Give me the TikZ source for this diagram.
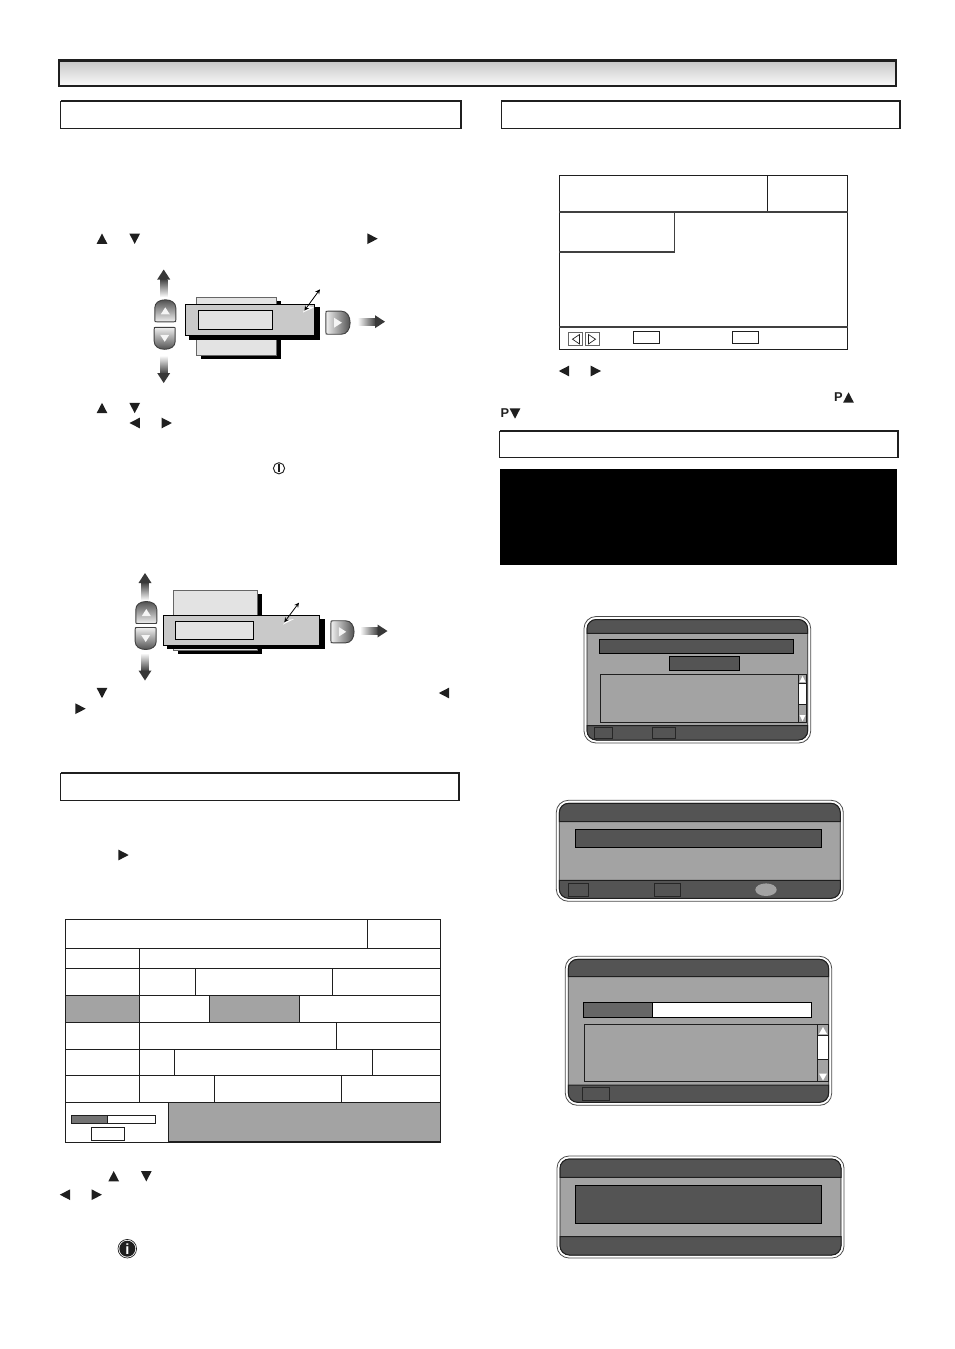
\documentclass[tikz,border=0pt]{standalone}
\usepackage{fontspec}
\setmainfont{Liberation Sans}
\definecolor{ink}{gray}{0.12}
\definecolor{dlgdark}{gray}{0.33}
\definecolor{dlgmid}{gray}{0.64}
\definecolor{panelmid}{gray}{0.79}
\definecolor{panellight}{gray}{0.89}
\newcommand{\dialogframe}[6]{
    \draw[black!70,fill=white,line width=0.6pt,rounded corners=9] (#1-3,#2-3) rectangle (#3+3,#4+3);
    \draw[ink,fill=dlgmid,line width=0.5pt,rounded corners=7] (#1,#2) rectangle (#3,#4);
    \draw[ink,fill=dlgdark,line width=0.75pt] (#1,#5) [rounded corners=7] -- (#1,#2) -- (#3,#2) [sharp corners] -- (#3,#5) -- cycle;
    \draw[ink,fill=dlgdark,line width=0.75pt] (#1,#6) [rounded corners=7] -- (#1,#4) -- (#3,#4) [sharp corners] -- (#3,#6) -- cycle;
}
\tikzset{
    x=0.75pt,y=-0.75pt,
    every node/.style={inner sep=0pt,outer sep=0pt},
    section box/.style={draw=ink,line width=0.75pt},
    table line/.style={draw=ink,line width=0.9pt},
    screen line/.style={draw=ink,line width=0.8pt},
    dark box/.style={draw=black,fill=dlgdark,line width=0.9pt},
    foot box/.style={draw=black!85,fill=dlgdark,line width=0.6pt},
    panel/.style={draw=black,fill=panelmid,line width=0.8pt},
    back panel/.style={draw=black!60,fill=panellight,line width=0.7pt},
    inner panel/.style={draw=black,fill=panellight,line width=0.8pt},
    pics/tri/.style={code={\fill[ink] (-5.4,5.2) -- (5.4,5.2) -- (0,-5.2) -- cycle;}},
    pics/keybtn/.style={code={
        \shade[draw=black!75,line width=0.7pt,top color=black!68,bottom color=black!6,shading angle=#1]
            (-8.5,11) -- (8.5,11) .. controls (10.5,11) and (10.5,11) .. (10.5,9) -- (10.5,-3)
            .. controls (10.5,-8) and (6,-11) .. (0,-11) .. controls (-6,-11) and (-10.5,-8) .. (-10.5,-3)
            -- (-10.5,9) .. controls (-10.5,11) and (-10.5,11) .. (-8.5,11) -- cycle;
        \fill[black!4] (-4.5,3.5) -- (4.5,3.5) -- (0,-3.5) -- cycle;
    }},
    pics/fadearrow/.style={code={
        \shade[top color=black!75,bottom color=white,shading angle=#1] (-3.7,0) rectangle (3.7,-18);
        \fill[black!78] (-6.5,-17.5) -- (0,-27.5) -- (6.5,-17.5) -- cycle;
    }}
}
\begin{document}
\begin{tikzpicture}
    \useasboundingbox (0,0) rectangle (954,1349);

    \shade[top color=black!22,bottom color=black!2] (59,60.5) rectangle (896,86);
    \draw[ink,line width=1.8pt] (59,60.5) rectangle (896,86);

    \foreach \xa/\ya/\xb/\yb in {60.5/101/461/128, 501/101/900/128, 60.5/773/459/800, 499.5/431/898/457.5}{
        \draw[section box] (\xa,\ya) rectangle (\xb,\yb);
        \draw[ink,line width=1.4pt] (\xa,\ya) -- (\xb,\ya) -- (\xb,\yb);
    }

    \fill[black] (500,469) rectangle (897,565);

    \foreach \x/\y/\a in {102/238.7/0, 134.7/238.7/180, 372.5/238.7/-90,
        102/408/0, 134.7/408/180, 134.7/423/90, 166.7/423/-90,
        102/693/180, 444/693/90, 80.5/708.7/-90, 123.5/855/-90,
        113.7/1176.2/0, 146.3/1176.2/180, 65/1194.7/90, 96.7/1194.7/-90,
        564/371/90, 595.8/371/-90, 848.5/397.5/0, 515/413.5/180}{
        \pic[rotate=\a] at (\x,\y) {tri};
    }
    \node[font=\bfseries\fontsize{9.6pt}{10pt}\selectfont,text=ink] (pup) at (838.3,397.5) {P};
    \node[font=\bfseries\fontsize{9.6pt}{10pt}\selectfont,text=ink] (pdown) at (504.8,413.5) {P};

    \draw[ink,line width=0.7pt] (279,468.3) circle (5.6);
    \draw[ink,line width=1pt] (279,464.3) -- (279,472.3);

    \fill[black] (200.7,301) rectangle (281,359.3);
    \draw[back panel] (196,297.7) rectangle (276.7,355.7);
    \fill[black] (189.3,307) rectangle (320,340);
    \draw[panel] (185.3,304.3) rectangle (314.3,335.3);
    \draw[inner panel] (198.3,310.3) rectangle (272.7,329.3);
    \fill[white] (303,312.5) -- (314,307.5) -- (306,305.5) -- cycle;
    \draw[<->,>=stealth,black,line width=0.6pt] (304.3,310.7) -- (320,289.3);
    \pic at (163.7,297) {fadearrow=0};
    \pic[rotate=180] at (163.7,355.5) {fadearrow=180};
    \pic at (165.3,310.8) {keybtn=0};
    \pic[rotate=180] at (164.7,338.3) {keybtn=180};
    \pic[rotate=-90,scale=1.1] at (338,322.7) {keybtn=-90};
    \pic[rotate=-90] at (357.5,321.7) {fadearrow=-90};

    \fill[black] (177.7,594) rectangle (262.3,653.7);
    \draw[back panel] (173.3,590.7) rectangle (257.7,650);
    \fill[black] (167.3,619) rectangle (325,649);
    \draw[panel] (163.3,615.3) rectangle (319.7,645.7);
    \draw[inner panel] (175.3,621.3) rectangle (253.7,639.7);
    \fill[white] (283,624.5) -- (294,619) -- (287,620) -- cycle;
    \draw[<->,>=stealth,black,line width=0.6pt] (284.3,622.3) -- (299,602.7);
    \pic at (145,600.5) {fadearrow=0};
    \pic[rotate=180] at (145,653) {fadearrow=180};
    \pic at (146.3,612.5) {keybtn=0};
    \pic[rotate=180] at (145.7,638.5) {keybtn=180};
    \pic[rotate=-90,scale=1.05] at (342.5,631.8) {keybtn=-90};
    \pic[rotate=-90] at (360,631) {fadearrow=-90};

    \fill[dlgmid] (65.3,995.3) rectangle (139.3,1022.3);
    \fill[dlgmid] (209.3,995.3) rectangle (299.3,1022.3);
    \fill[dlgmid] (168.3,1102.3) rectangle (440.3,1142.3);
    \draw[table line] (65.3,919.7) rectangle (440.3,1142.3);
    \foreach \y in {948.3,968.3,995.3,1022.3,1049.3,1075.3,1102.3}{
        \draw[table line] (65.3,\y) -- (440.3,\y);
    }
    \draw[table line] (367.3,919.7) -- (367.3,948.3);
    \draw[table line] (139.3,948.3) -- (139.3,1102.3);
    \foreach \x/\ya/\yb in {195.3/968.3/995.3, 332.3/968.3/995.3, 209.3/995.3/1022.3, 299.3/995.3/1022.3,
        336.3/1022.3/1049.3, 174.3/1049.3/1075.3, 372.3/1049.3/1075.3,
        214.3/1075.3/1102.3, 341.3/1075.3/1102.3, 168.3/1102.3/1142.3}{
        \draw[table line] (\x,\ya) -- (\x,\yb);
    }
    \draw[ink,line width=1.5pt] (168.3,1142) -- (440.3,1142);
    \draw[table line,fill=white] (71.3,1115.3) rectangle (155.7,1123.7);
    \draw[table line,fill=black!55] (71.3,1115.3) rectangle (107.3,1123.7);
    \draw[table line] (91.3,1127.3) rectangle (124.7,1140.3);

    \fill[ink] (127.3,1248.7) circle (8);
    \draw[ink,line width=0.5pt] (127.3,1248.7) circle (9.3);
    \node[font=\bfseries\fontsize{11pt}{12pt}\selectfont,text=white] (infosign) at (127.3,1248.7) {i};

    \draw[screen line] (559.3,175.7) rectangle (847.7,349.3);
    \draw[screen line] (767.3,175.7) -- (767.3,212);
    \draw[black!75,line width=0.9pt] (559.3,212) -- (847.7,212);
    \draw[black!75,line width=0.9pt] (559.3,252) -- (674.7,252) -- (674.7,212);
    \draw[black!75,line width=0.9pt] (559.3,327) -- (847.7,327);
    \foreach \xa/\xb/\tipa/\tipb in {568.7/582.7/579.5/572.5, 585/599/588.5/595.5}{
        \draw[black!60,line width=0.6pt] (\xa,332.7) rectangle (\xb,345.7);
        \draw[ink,line width=0.5pt] (\tipa,334.5) -- (\tipb,339.2) -- (\tipa,344) -- cycle;
    }
    \draw[screen line] (633.3,331.3) rectangle (659.7,343.7);
    \draw[screen line] (732.3,331.3) rectangle (758.7,343.7);

    \dialogframe{587}{619.5}{807.7}{740}{633.3}{725.7}
    \draw[dark box] (599.3,639.3) rectangle (793.7,653.3);
    \draw[dark box] (669.3,656.3) rectangle (739.7,670.7);
    \draw[ink,fill=dlgmid,line width=0.7pt] (600.3,674.3) rectangle (806.7,722.3);
    \draw[ink,fill=dlgmid,line width=0.5pt] (798.3,674.3) rectangle (806.7,722.3);
    \draw[ink,fill=white,line width=0.5pt] (798.3,683.3) rectangle (806.7,704);
    \fill[white] (799.5,682) -- (805.5,682) -- (802.5,676) -- cycle;
    \fill[white] (799.5,715) -- (805.5,715) -- (802.5,721) -- cycle;
    \draw[foot box] (594.3,727.3) rectangle (612.7,738.7);
    \draw[foot box] (652.3,727.3) rectangle (675.7,738.7);

    \dialogframe{559.3}{803.3}{840.3}{898.3}{821.7}{880.3}
    \draw[dark box] (575.7,829.3) rectangle (821.7,847.7);
    \draw[foot box] (568.3,883.3) rectangle (588.7,896.7);
    \draw[foot box] (654.3,883.3) rectangle (680.3,896.7);
    \fill[dlgmid] (766,889.7) ellipse (10.7 and 6.3);

    \dialogframe{568.3}{959.3}{828.7}{1102.3}{976.7}{1085}
    \draw[black,fill=white,line width=0.9pt] (583.3,1002.3) rectangle (811.7,1017.7);
    \draw[black,fill=black!60,line width=0.9pt] (583.3,1002.3) rectangle (652.7,1017.7);
    \draw[ink,fill=dlgmid,line width=0.7pt] (584.3,1024.3) rectangle (828.3,1081.7);
    \draw[ink,fill=dlgmid,line width=0.5pt] (817.7,1024.3) rectangle (828.3,1081.7);
    \draw[ink,fill=white,line width=0.5pt] (817.7,1035.7) rectangle (828.3,1059.3);
    \fill[white] (819,1034) -- (827,1034) -- (823,1027) -- cycle;
    \fill[white] (819,1073.5) -- (827,1073.5) -- (823,1080.5) -- cycle;
    \draw[foot box] (582.3,1087.3) rectangle (609.7,1100.7);

    \dialogframe{560}{1159}{841}{1255}{1177.3}{1236.7}
    \draw[dark box] (575.7,1185.3) rectangle (821.7,1223.3);
\end{tikzpicture}
\end{document}
